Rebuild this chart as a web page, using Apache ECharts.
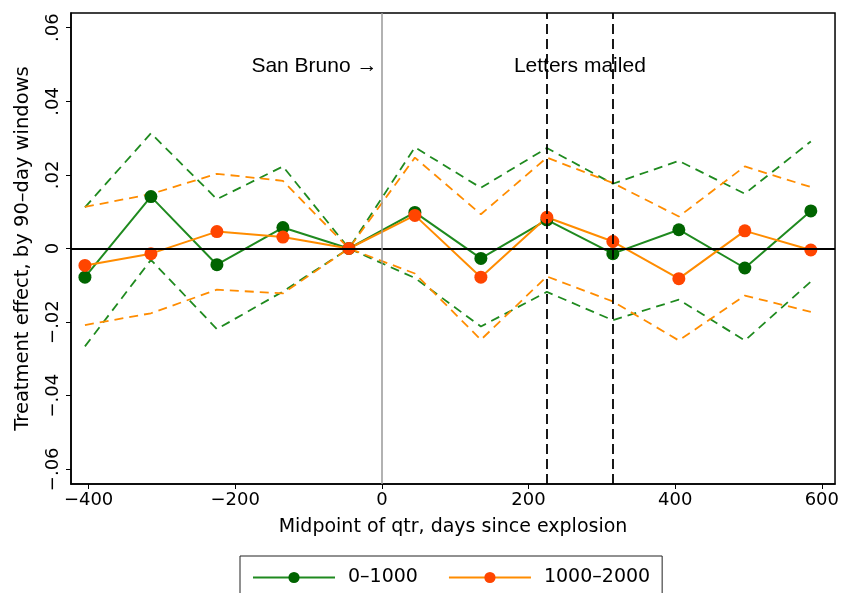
<!DOCTYPE html>
<html>
<head>
<meta charset="utf-8">
<script src="https://cdn.jsdelivr.net/npm/echarts@6/dist/echarts.min.js"></script>
<style>
  body { margin: 0; background: #fff; }
</style>
</head>
<body>
<div id="main" style="width:842px;height:593px;"></div>
<script>
// midpoint of each 90-day window, days since explosion
var days = [-405, -315, -225, -135, -45, 45, 135, 225, 315, 405, 495, 585];

// 0-1000 group
var grnEst = [-0.0078, 0.0141, -0.0044, 0.0057, 0, 0.0098, -0.0027, 0.0078, -0.0014, 0.0051, -0.0053, 0.0102];
var grnHi  = [0.0112, 0.0313, 0.0134, 0.0223, 0, 0.0275, 0.0165, 0.0273, 0.0176, 0.0238, 0.0149, 0.0291];
var grnLo  = [-0.0266, -0.0031, -0.0219, -0.0117, 0, -0.0080, -0.0212, -0.0118, -0.0195, -0.0139, -0.0250, -0.0090];

// 1000-2000 group
var orgEst = [-0.0046, -0.0014, 0.0046, 0.0031, 0, 0.0090, -0.0078, 0.0085, 0.0019, -0.0082, 0.0048, -0.0004];
var orgHi  = [0.0113, 0.0148, 0.0203, 0.0184, 0, 0.0247, 0.0093, 0.0247, 0.0178, 0.0087, 0.0223, 0.0167];
var orgLo  = [-0.0208, -0.0176, -0.0112, -0.0122, 0, -0.0068, -0.0248, -0.0076, -0.0144, -0.0250, -0.0128, -0.0172];

var xTicks = [-400, -200, 0, 200, 400, 600];
var yTicks = [-0.06, -0.04, -0.02, 0, 0.02, 0.04, 0.06];
var letterDays = [225, 315];

var names = ['0\u20131000', '1000\u20132000'];

function pairs(ys) {
    return days.map(function (d, i) { return [d, ys[i]]; });
}
function minus(s) { return s.replace('-', '\u2212'); }

var GRN = '#1f8a1f', GRN_DOT = '#006400';
var ORG = '#ff8c00', ORG_DOT = '#ff4500';
var sans = 'DejaVu Sans, sans-serif';
var annot = 'Liberation Sans, Arial, sans-serif';

function band(data, color) {
    return {
        type: 'line', data: pairs(data), symbol: 'none', silent: true,
        lineStyle: { color: color, width: 1.8, type: [9, 6] }
    };
}

var chart = echarts.init(document.getElementById('main'));
chart.setOption({
    animation: false,
    backgroundColor: '#fff',
    grid: {
        left: 71, right: 6, top: 13, bottom: 109,
        show: true, borderColor: '#000', borderWidth: 1.5
    },
    legend: {
        data: names,
        left: 240, top: 556,
        borderColor: '#222', borderWidth: 1,
        padding: [12, 12, 12, 12],
        itemWidth: 82, itemHeight: 14, itemGap: 30,
        textStyle: { fontFamily: sans, fontSize: 19, color: '#000', padding: [0, 0, 0, 8] }
    },
    xAxis: {
        type: 'value', min: -424, max: 618,
        name: 'Midpoint of qtr, days since explosion',
        nameLocation: 'middle', nameGap: 34,
        nameTextStyle: { fontFamily: sans, fontSize: 19, color: '#000' },
        axisLine: { show: true, onZero: false, lineStyle: { color: '#000', width: 1.5 } },
        axisTick: { show: true, length: 5, customValues: xTicks, lineStyle: { color: '#000' } },
        axisLabel: {
            customValues: xTicks, margin: 7,
            fontFamily: sans, fontSize: 18, color: '#000',
            formatter: function (v) { return minus(String(v)); }
        },
        splitLine: { show: false }
    },
    yAxis: {
        type: 'value', min: -0.064, max: 0.064,
        name: 'Treatment effect, by 90\u2013day windows',
        nameLocation: 'middle', nameGap: 38,
        nameTextStyle: { fontFamily: sans, fontSize: 19.5, color: '#000' },
        axisLine: { show: true, onZero: false, lineStyle: { color: '#000', width: 1.5 } },
        axisTick: { show: true, length: 5, customValues: yTicks, lineStyle: { color: '#000' } },
        axisLabel: {
            customValues: yTicks, rotate: 90, margin: 9,
            fontFamily: sans, fontSize: 18, color: '#000',
            formatter: function (v) {
                if (Math.abs(v) < 1e-9) return '0';
                return minus(v.toFixed(2).replace(/^(-?)0/, '$1'));
            }
        },
        splitLine: { show: false }
    },
    series: [
        Object.assign(band(grnHi, GRN), {
            markLine: {
                silent: true, symbol: 'none', label: { show: false },
                data: [
                    { yAxis: 0, lineStyle: { color: '#000', width: 2.2, type: 'solid' } },
                    { xAxis: 0, lineStyle: { color: '#999', width: 1.5, type: 'solid' } },
                    { xAxis: letterDays[0], lineStyle: { color: '#000', width: 1.8, type: [10, 5] } },
                    { xAxis: letterDays[1], lineStyle: { color: '#000', width: 1.8, type: [10, 5] } }
                ]
            },
            markPoint: {
                silent: true, symbol: 'circle', symbolSize: 0,
                label: { show: true, fontFamily: annot, fontSize: 21, color: '#000' },
                data: [
                    { coord: [-6, 0.0496], label: { formatter: 'San Bruno \u2192', align: 'right', position: 'inside' } },
                    { coord: [270, 0.0496], label: { formatter: 'Letters mailed', align: 'center', position: 'inside' } }
                ]
            }
        }),
        band(grnLo, GRN),
        band(orgHi, ORG),
        band(orgLo, ORG),
        {
            name: names[0], type: 'line', data: pairs(grnEst),
            symbol: 'circle', symbolSize: 13,
            itemStyle: { color: GRN_DOT, borderWidth: 0 },
            lineStyle: { color: GRN, width: 2 }
        },
        {
            name: names[1], type: 'line', data: pairs(orgEst),
            symbol: 'circle', symbolSize: 13,
            itemStyle: { color: ORG_DOT, borderWidth: 0 },
            lineStyle: { color: ORG, width: 2 }
        }
    ]
});
</script>
</body>
</html>
